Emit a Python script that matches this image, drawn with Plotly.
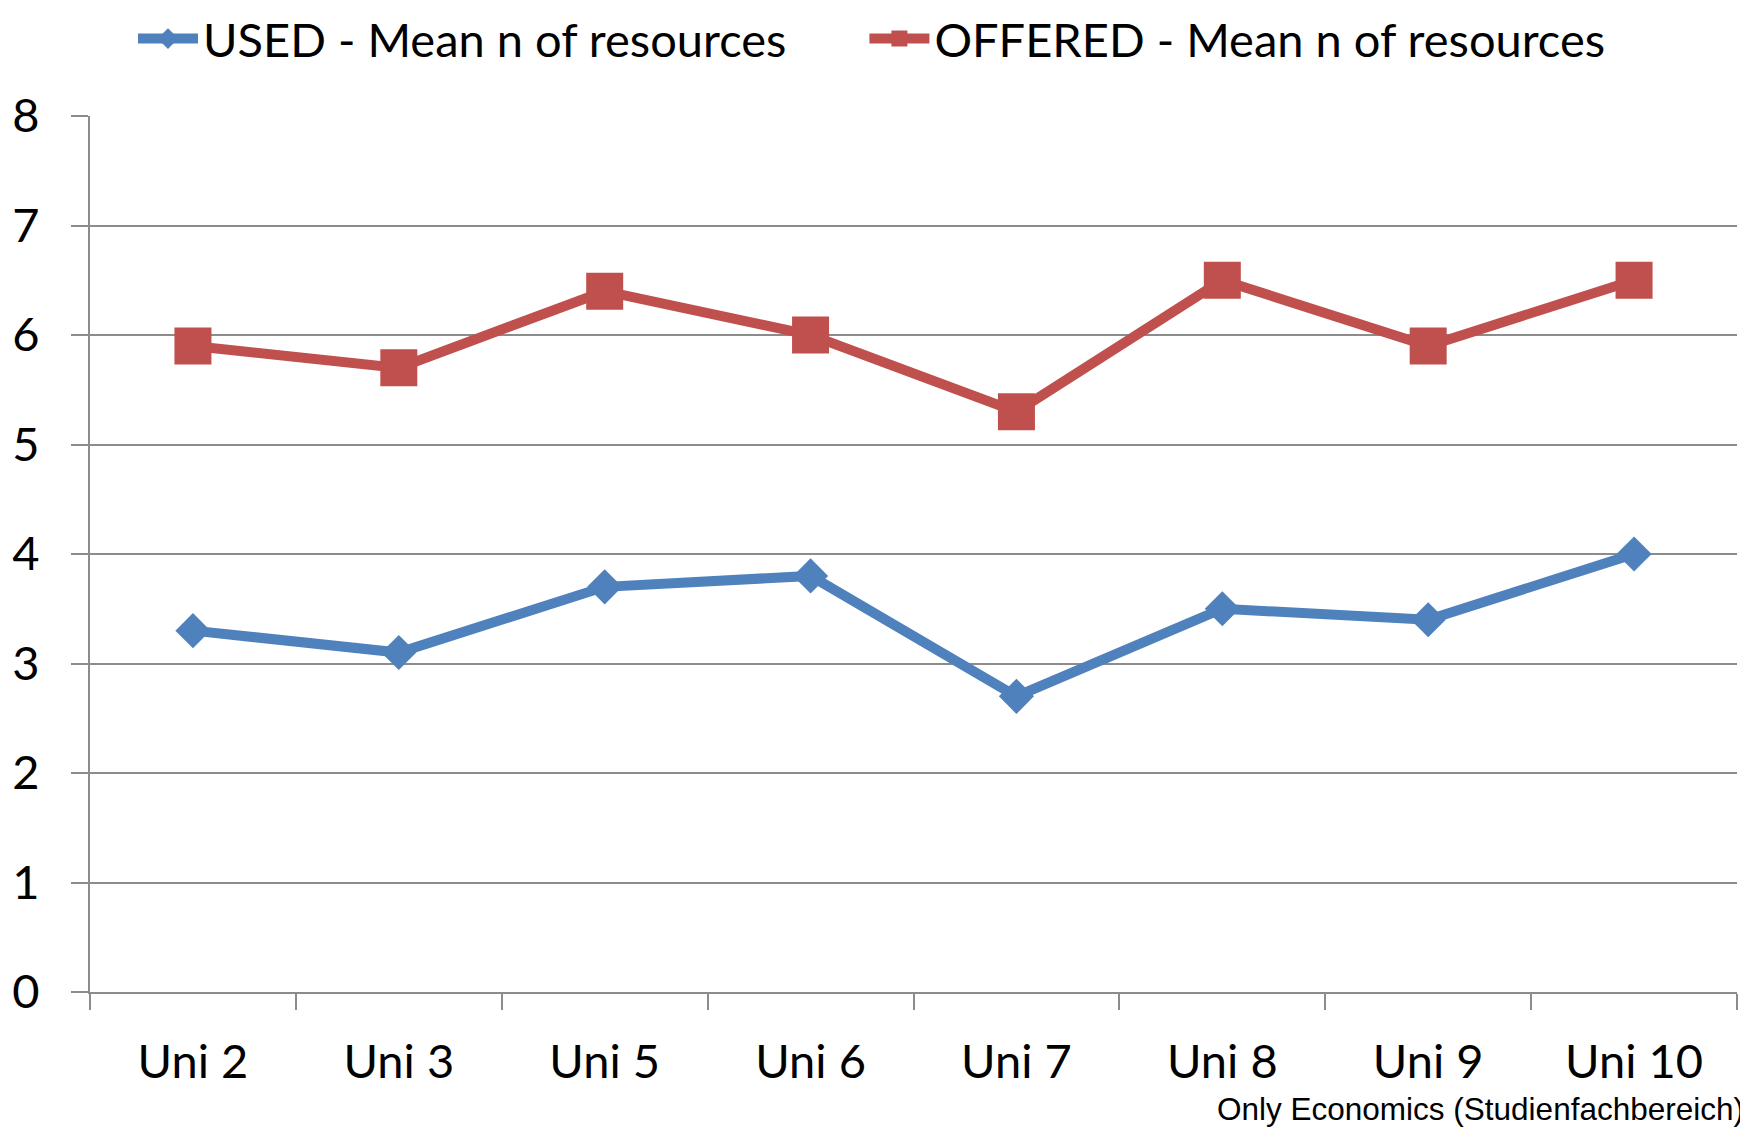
import plotly.graph_objects as go

categories = ["Uni 2", "Uni 3", "Uni 5", "Uni 6", "Uni 7", "Uni 8", "Uni 9", "Uni 10"]
used_mean = [3.3, 3.1, 3.7, 3.8, 2.7, 3.5, 3.4, 4.0]
offered_mean = [5.9, 5.7, 6.4, 6.0, 5.3, 6.5, 5.9, 6.5]
y_ticks = [0, 1, 2, 3, 4, 5, 6, 7, 8]

BLUE = "#4F81BD"
RED = "#C0504D"
GRID = "#8C8C8C"
FONT = "Lato"

# the page body adds an 8 px margin, so the figure is 8 px smaller
W, H = 1740, 1119

fig = go.Figure()
fig.add_trace(go.Scatter(
    x=categories, y=used_mean, name="USED - Mean n of resources",
    mode="lines+markers",
    line=dict(color=BLUE, width=10),
    marker=dict(symbol="diamond", size=27, color=BLUE),
    legend="legend",
))
fig.add_trace(go.Scatter(
    x=categories, y=offered_mean, name="OFFERED - Mean n of resources",
    mode="lines+markers",
    line=dict(color=RED, width=10),
    marker=dict(symbol="square", size=37, color=RED),
    legend="legend2",
))

legend_common = dict(orientation="h", xanchor="left", y=1.0879, yanchor="middle",
                     font=dict(size=47, family=FONT), itemwidth=60,
                     bgcolor="rgba(0,0,0,0)")

fig.update_layout(
    width=W, height=H,
    margin=dict(l=82, r=11, t=108, b=135, autoexpand=False),
    paper_bgcolor="white", plot_bgcolor="white",
    font=dict(family=FONT, size=48, color="black"),
    showlegend=True,
    legend=dict(x=0.0261, **legend_common),
    legend2=dict(x=0.4702, **legend_common),
    xaxis=dict(
        type="category", tickson="boundaries", ticks="outside", ticklen=16,
        tickcolor=GRID, tickwidth=2, showline=True, linecolor=GRID, linewidth=2,
        showgrid=False, tickfont=dict(size=47, family=FONT), ticklabelstandoff=28,
        range=[-0.5, 7.5], zeroline=False,
    ),
    yaxis=dict(
        range=[0, 8], tickvals=y_ticks, ticks="outside", ticklen=17,
        tickcolor=GRID, tickwidth=2, showline=True, linecolor=GRID, linewidth=2,
        showgrid=True, gridcolor=GRID, gridwidth=2, zeroline=False,
        tickfont=dict(size=47, family=FONT), ticklabelstandoff=22,
    ),
    annotations=[dict(
        text="Only Economics (Studienfachbereich)", xref="paper", yref="paper",
        x=1.0055, y=-0.1336, xanchor="right", yanchor="middle", showarrow=False,
        font=dict(family="Liberation Sans", size=31.5, color="black"),
    )],
)

fig.write_html("out.html")
